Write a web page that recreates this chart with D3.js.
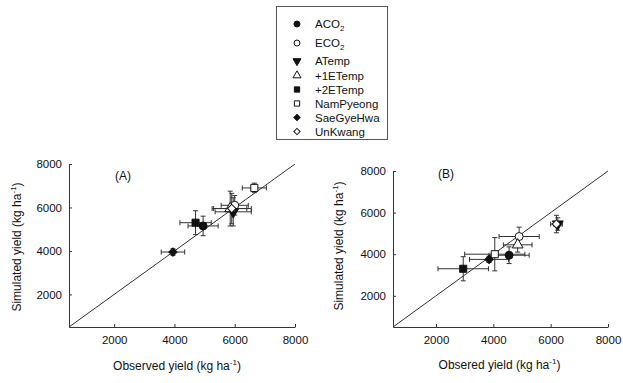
<!DOCTYPE html>
<html>
<head>
<meta charset="utf-8">
<script src="https://cdn.jsdelivr.net/npm/d3@7"></script>
<style>
  body { margin: 0; background: #fff; }
  text { font-family: "Liberation Sans", Arial, sans-serif; fill: #111; }
  .axis path, .axis line { stroke: #333; stroke-width: 1; }
  .axis text { font-size: 11.5px; fill: #111; }
</style>
</head>
<body>
<svg id="chart" width="623" height="383"></svg>
<script>
// series in legend order
const series = ["ACO2", "ECO2", "ATemp", "+1ETemp", "+2ETemp", "NamPyeong", "SaeGyeHwa", "UnKwang"];
const symbolsFor = ["circleF", "circleO", "triDownF", "triO", "squareF", "squareO", "diamondF", "diamondO"];
const ticks = [2000, 4000, 6000, 8000];

// panel A: observed, simulated, sd observed, sd simulated
const obsA = [4950, 6000, 5950, 5850, 4700, 6650, 3950, 5900];
const simA = [5150, 6100, 5800, 5950, 5300, 6900, 3950, 5950];
const errObsA = [500, 450, 600, 550, 520, 400, 390, 650];
const errSimA = [450, 450, 650, 800, 550, 220, 150, 700];

// panel B
const obsB = [4550, 4900, 6250, 4850, 2950, 4050, 3850, 6200];
const simB = [3950, 4850, 5450, 4450, 3300, 4000, 3750, 5450];
const errObsB = [700, 700, 150, 500, 880, 1050, 680, 200];
const errSimB = [400, 450, 300, 350, 580, 800, 150, 420];

const svg = d3.select("#chart");

function symbolPath(kind, size) {
  const map = {
    circleF: d3.symbolCircle, circleO: d3.symbolCircle,
    triDownF: d3.symbolTriangle, triO: d3.symbolTriangle,
    squareF: d3.symbolSquare, squareO: d3.symbolSquare,
    diamondF: d3.symbolSquare, diamondO: d3.symbolSquare
  };
  return d3.symbol().type(map[kind]).size(size)();
}

function drawSymbol(g, kind, cx, cy, size) {
  const filled = kind.endsWith("F");
  let rot = "";
  if (kind === "triDownF") rot = " rotate(180)";
  if (kind.startsWith("diamond")) { rot = " rotate(45)"; size = size * 0.7; }
  g.append("path")
    .attr("d", symbolPath(kind, size))
    .attr("transform", "translate(" + cx + "," + cy + ")" + rot)
    .attr("fill", filled ? "#111" : "#fff")
    .attr("stroke", "#111")
    .attr("stroke-width", 1);
}

function panel(opts) {
  const x = d3.scaleLinear().domain([500, 8000]).range([opts.x0, opts.x1]);
  const y = d3.scaleLinear().domain([500, 8000]).range([opts.y0, opts.y1]);
  const g = svg.append("g");

  g.append("g").attr("class", "axis")
    .attr("transform", "translate(0," + opts.y0 + ")")
    .call(d3.axisBottom(x).tickValues(ticks).tickSizeInner(-3).tickSizeOuter(0).tickPadding(9).tickFormat(d3.format("d")));

  g.append("g").attr("class", "axis")
    .attr("transform", "translate(" + opts.x0 + ",0)")
    .call(d3.axisLeft(y).tickValues(ticks).tickSizeInner(-3).tickSizeOuter(0).tickPadding(7).tickFormat(d3.format("d")));

  // 1:1 line
  g.append("line")
    .attr("x1", x(500)).attr("y1", y(500))
    .attr("x2", x(8000)).attr("y2", y(8000))
    .attr("stroke", "#333").attr("stroke-width", 1);

  const cap = 2.5;
  opts.obs.forEach((o, i) => {
    const s = opts.sim[i], eo = opts.eo[i], es = opts.es[i];
    const eb = g.append("g").attr("stroke", "#333").attr("stroke-width", 1);
    eb.append("line").attr("x1", x(o - eo)).attr("x2", x(o + eo)).attr("y1", y(s)).attr("y2", y(s));
    eb.append("line").attr("x1", x(o - eo)).attr("x2", x(o - eo)).attr("y1", y(s) - cap).attr("y2", y(s) + cap);
    eb.append("line").attr("x1", x(o + eo)).attr("x2", x(o + eo)).attr("y1", y(s) - cap).attr("y2", y(s) + cap);
    eb.append("line").attr("x1", x(o)).attr("x2", x(o)).attr("y1", y(s - es)).attr("y2", y(s + es));
    eb.append("line").attr("x1", x(o) - cap).attr("x2", x(o) + cap).attr("y1", y(s - es)).attr("y2", y(s - es));
    eb.append("line").attr("x1", x(o) - cap).attr("x2", x(o) + cap).attr("y1", y(s + es)).attr("y2", y(s + es));
  });
  opts.obs.forEach((o, i) => {
    drawSymbol(g, symbolsFor[i], x(o), y(opts.sim[i]), 50);
  });

  g.append("text").attr("x", opts.tagX).attr("y", opts.tagY)
    .style("font-size", "12px").text(opts.tag);

  const xt = g.append("text").attr("x", (opts.x0 + opts.x1) / 2 + opts.xtDx).attr("y", opts.xtY)
    .attr("text-anchor", "middle").style("font-size", "12px");
  xt.append("tspan").text(opts.xTitle + " (kg ha");
  xt.append("tspan").attr("dy", -5).style("font-size", "8px").text("-1");
  xt.append("tspan").attr("dy", 5).text(")");

  const yt = g.append("text")
    .attr("transform", "translate(" + opts.ytX + "," + opts.ytY + ") rotate(-90)")
    .attr("text-anchor", "middle").style("font-size", "12px");
  yt.append("tspan").text("Simulated yield (kg ha");
  yt.append("tspan").attr("dy", -5).style("font-size", "8px").text("-1");
  yt.append("tspan").attr("dy", 5).text(")");
}

panel({ x0: 69, x1: 295, y0: 327, y1: 164, obs: obsA, sim: simA, eo: errObsA, es: errSimA,
  tag: "(A)", tagX: 115, tagY: 180, xTitle: "Observed yield", xtDx: -5, xtY: 370, ytX: 21, ytY: 247 });
panel({ x0: 393, x1: 608, y0: 327, y1: 171, obs: obsB, sim: simB, eo: errObsB, es: errSimB,
  tag: "(B)", tagX: 438, tagY: 178, xTitle: "Obsered yield", xtDx: -1, xtY: 369, ytX: 343, ytY: 246 });

// legend
const leg = svg.append("g");
leg.append("rect").attr("x", 276.5).attr("y", 6.5).attr("width", 111).attr("height", 133)
  .attr("fill", "#fff").attr("stroke", "#555").attr("stroke-width", 1);
const rowY = [24, 43, 61, 75.5, 89.5, 103.5, 117.5, 131.5];
series.forEach((name, i) => {
  drawSymbol(leg, symbolsFor[i], 297, rowY[i], 28);
  const t = leg.append("text").attr("x", 315).attr("y", rowY[i] + 4).style("font-size", "11.5px");
  if (name.endsWith("CO2")) {
    t.append("tspan").text(name.slice(0, -1));
    t.append("tspan").attr("dy", 3).style("font-size", "8px").text("2");
  } else {
    t.text(name);
  }
});
</script>
</body>
</html>
